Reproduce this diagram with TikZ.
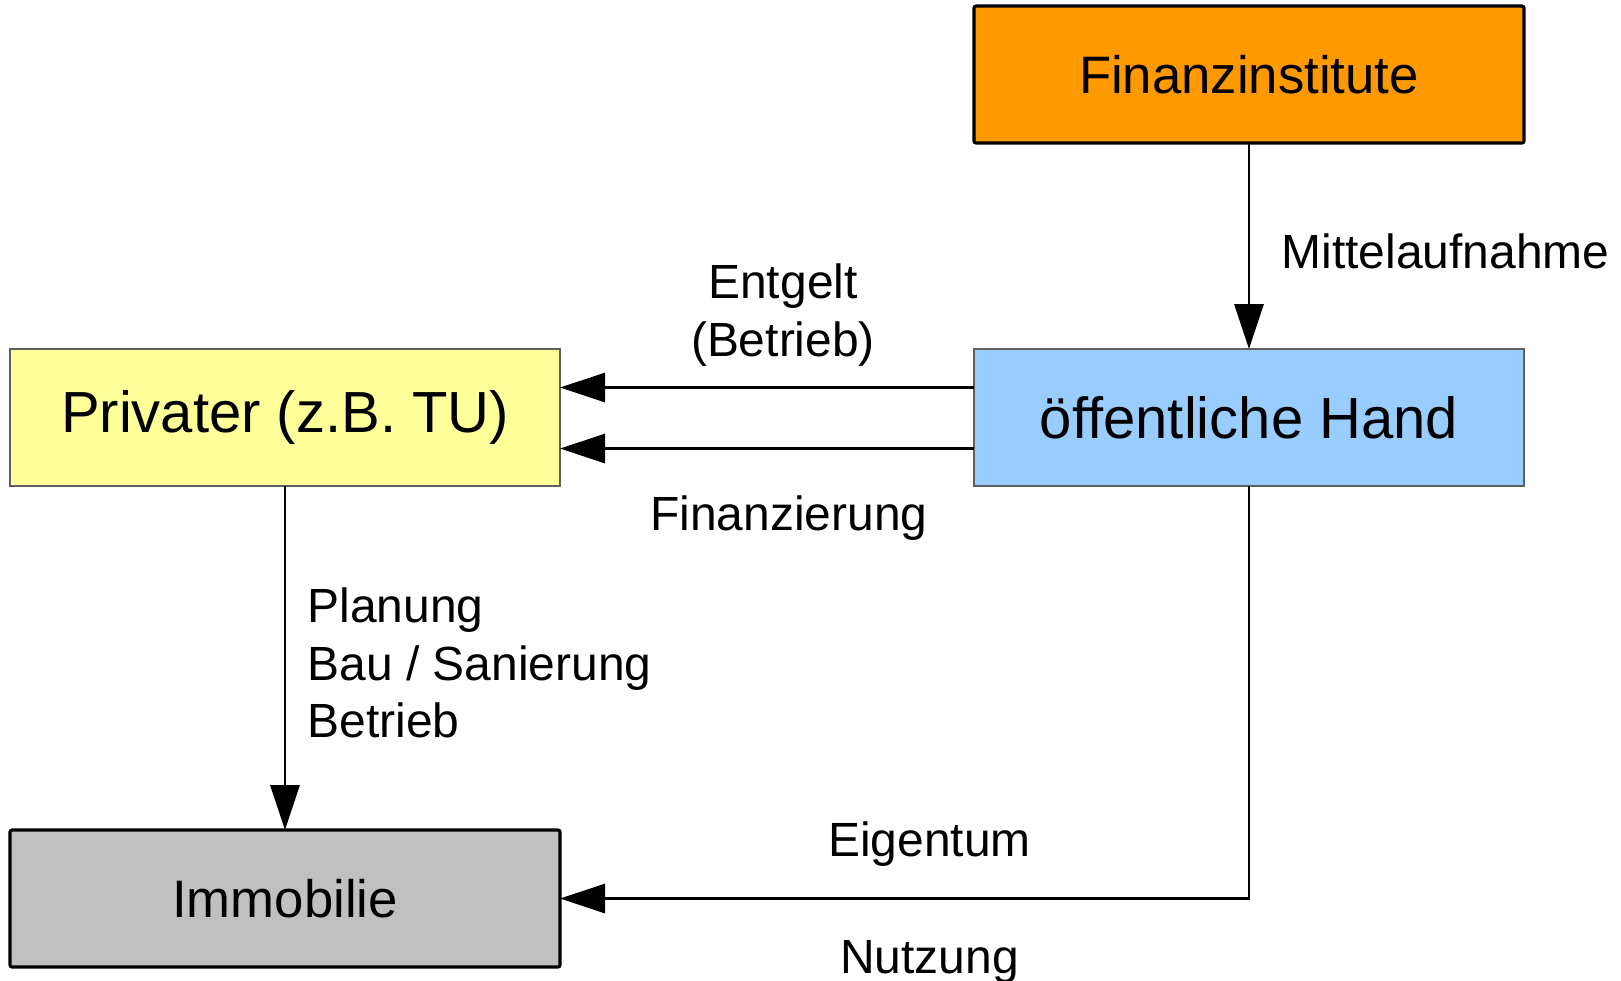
\documentclass[tikz,border=0pt]{standalone}
\usepackage{fontspec}
\setsansfont{Liberation Sans}
\usetikzlibrary{arrows.meta,positioning}
\definecolor{boxorange}{HTML}{FF9900}
\definecolor{boxyellow}{HTML}{FFFF99}
\definecolor{boxblue}{HTML}{99CCFF}
\definecolor{boxgray}{HTML}{C0C0C0}
\definecolor{edgegray}{HTML}{5F5F5F}

\begin{document}
\begin{tikzpicture}[
  party/.style={draw, minimum width=5.5cm, minimum height=1.37cm,
                inner sep=0pt, outer sep=0pt, align=center},
  strong/.style={party, line width=0.9pt, rounded corners=0.6pt,
                 font=\fontsize{15}{18}\selectfont\sffamily},
  soft/.style={party, draw=edgegray, line width=0.45pt,
               font=\fontsize{16.5}{19}\selectfont\sffamily},
  lbl/.style={inner sep=0pt, align=left, font=\fontsize{13.65}{16.4}\selectfont\sffamily},
  arr/.style={-{Triangle[length=0.45cm, width=0.29cm]}, line width=0.85pt}
]
  \useasboundingbox (0,0) rectangle (16.21,-9.80);
  \node[soft, fill=boxyellow]                      (priv) at (2.85,-4.175) {Privater (z.B. TU)};
  \node[soft, fill=boxblue, right=4.14cm of priv]  (oeff) {öffentliche Hand};
  \node[strong, fill=boxorange, above=2.06cm of oeff] (bank) {Finanzinstitute};
  \node[strong, fill=boxgray, below=3.44cm of priv]   (immo) {Immobilie};
  \draw[arr] (bank) -- node[lbl, right=0.31cm, yshift=-0.05cm] {Mittelaufnahme} (oeff);
  \draw[arr] ([yshift=0.30cm]oeff.west) -- node[lbl, align=center, above=0.2cm, xshift=0.16cm] {Entgelt\\(Betrieb)} ([yshift=0.30cm]priv.east);
  \draw[arr] ([yshift=-0.31cm]oeff.west) -- node[lbl, below=0.46cm, xshift=0.22cm] {Finanzierung} ([yshift=-0.31cm]priv.east);
  \draw[arr] (priv) -- node[lbl, right=0.21cm, yshift=-0.05cm] {Planung\\Bau / Sanierung\\Betrieb} (immo);
  \draw[arr] (oeff.south) |- node[lbl, pos=0.75, above=0.31cm, xshift=0.25cm] {Eigentum}
                             node[lbl, pos=0.75, below=0.40cm, xshift=0.25cm] {Nutzung} (immo.east);
\end{tikzpicture}
\end{document}
